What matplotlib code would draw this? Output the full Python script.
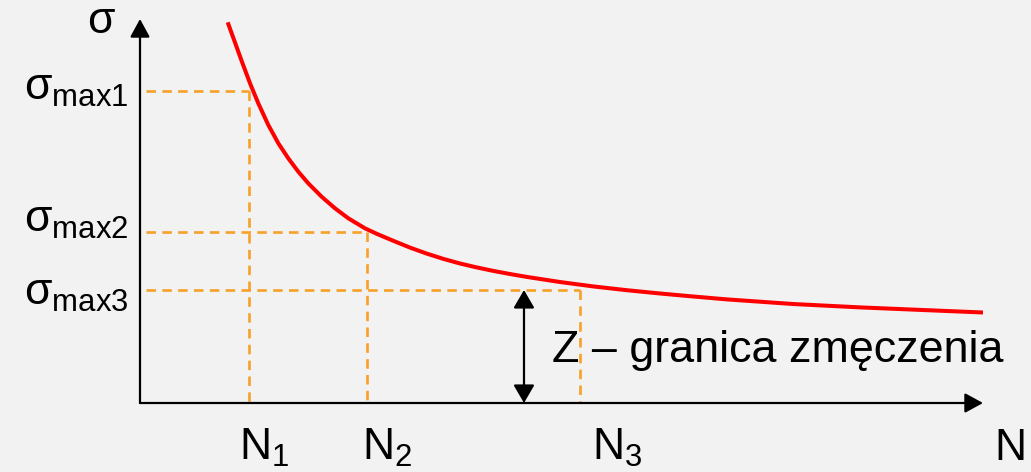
import matplotlib
matplotlib.use("Agg")
import matplotlib.pyplot as plt

plt.rcParams['font.family'] = ['Liberation Sans', 'DejaVu Sans']
plt.rcParams['mathtext.fontset'] = 'custom'
plt.rcParams['mathtext.rm'] = 'Liberation Sans'
plt.rcParams['mathtext.it'] = 'Liberation Sans:italic'
plt.rcParams['mathtext.bf'] = 'Liberation Sans:bold'

# S-N (Woehler) curve, in arbitrary units: number of cycles N vs. stress sigma
cycles = [1.040, 1.127, 1.206, 1.305, 1.403, 1.522, 1.641, 1.759, 1.878, 1.996,
          2.155, 2.313, 2.471, 2.669, 2.808, 3.005, 3.203, 3.401, 3.598, 3.796,
          3.994, 4.191, 4.389, 4.587, 4.982, 5.377, 5.773, 6.168, 6.524, 6.963,
          7.746, 8.541, 9.336, 10.0]
stress = [9.914, 9.388, 8.906, 8.326, 7.805, 7.240, 6.763, 6.372, 6.023, 5.721,
          5.372, 5.070, 4.810, 4.549, 4.406, 4.224, 4.047, 3.891, 3.753, 3.633,
          3.531, 3.440, 3.359, 3.284, 3.151, 3.036, 2.938, 2.852, 2.781, 2.698,
          2.578, 2.490, 2.417, 2.357]

# Reference load levels and corresponding cycle counts
n_levels = [1.293, 2.693, 5.219]
sigma_levels = [8.125, 4.453, 2.943]
n_labels = ["1", "2", "3"]
sigma_labels = ["max1", "max2", "max3"]

# Fatigue limit marker
z_position = 4.555
z_label = "Z – granica zmęczenia"

W, H = 1031, 472
BG = "#f2f2f2"
ORANGE = "#f7a02a"
RED = "#ff0000"

fig = plt.figure(figsize=(W / 100, H / 100), dpi=100, facecolor=BG)
# axes box spans from the origin to the arrow tips
x0, y0, x1, y1 = 140, 403, 983, 19
ax = fig.add_axes([x0 / W, 1 - y0 / H, (x1 - x0) / W, (y0 - y1) / H])
ax.set_xlim(0, 10)
ax.set_ylim(0, 10)
ax.set_facecolor("none")
ax.axis("off")

arrow_style = "-|>,head_length=0.55,head_width=0.3"
# coordinate axes with arrowheads
for tip in [(10, 0), (0, 10)]:
    ax.annotate("", xy=tip, xytext=(0, 0),
                arrowprops=dict(arrowstyle=arrow_style, color="black", lw=1.6,
                                shrinkA=0, shrinkB=0, mutation_scale=20),
                annotation_clip=False)

# dashed guides
dash = (0, (3.6, 2.4))
for n, s in zip(n_levels, sigma_levels):
    ax.plot([0.07, n], [s, s], color=ORANGE, lw=1.9, ls=dash,
            dash_capstyle="butt", zorder=2)
    ax.plot([n, n], [s, 0.03], color=ORANGE, lw=1.9, ls=dash,
            dash_capstyle="butt", zorder=2)

# S-N curve
ax.plot(cycles, stress, color=RED, lw=2.9, solid_capstyle="butt",
        solid_joinstyle="round", zorder=3)

# fatigue-limit double arrow
ax.annotate("", xy=(z_position, sigma_levels[2]), xytext=(z_position, 0),
            arrowprops=dict(arrowstyle="<|-|>,head_length=0.55,head_width=0.32",
                            color="black", lw=1.6, shrinkA=0, shrinkB=0,
                            mutation_scale=20),
            annotation_clip=False)


def px(x, y):
    """Figure-fraction position of a point given from the top-left corner."""
    return x / W, 1 - y / H


# axis titles
fig.text(*px(101, 33), "σ", fontsize=32, ha="center", va="baseline")
fig.text(*px(994, 460), "N", fontsize=32, ha="left", va="baseline")

# sigma level labels
sigma_base = [100, 232, 305]
for lab, yb in zip(sigma_labels, sigma_base):
    fig.text(*px(24, yb), "σ$_{\\mathrm{%s}}$" % lab, fontsize=32,
             ha="left", va="baseline")

# cycle level labels
n_pos = [239, 362, 592]
for lab, xl in zip(n_labels, n_pos):
    fig.text(*px(xl, 460), "N$_{\\mathrm{%s}}$" % lab, fontsize=32,
             ha="left", va="baseline")

fig.text(*px(552, 362), z_label, fontsize=32.3, ha="left", va="baseline")

fig.savefig("out.png", dpi=100, facecolor=BG)
